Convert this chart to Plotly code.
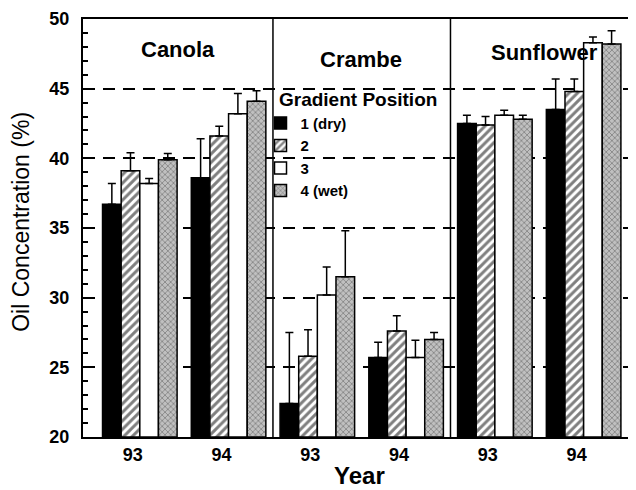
import plotly.graph_objects as go

# ---- data ----
years = ["93", "94", "93", "94", "93", "94"]
crops = ["Canola", "Crambe", "Sunflower"]
positions = ["1 (dry)", "2", "3", "4 (wet)"]
y_ticks = [20, 25, 30, 35, 40, 45, 50]

pos1 = [36.7, 38.6, 22.4, 25.7, 42.5, 43.5]
pos2 = [39.1, 41.6, 25.8, 27.6, 42.4, 44.8]
pos3 = [38.2, 43.2, 30.2, 25.7, 43.1, 48.3]
pos4 = [39.9, 44.1, 31.5, 27.0, 42.8, 48.2]

err1 = [1.5, 2.8, 5.1, 1.1, 0.6, 2.2]
err2 = [1.3, 0.7, 1.9, 1.1, 0.6, 0.9]
err3 = [0.35, 1.45, 2.0, 1.25, 0.35, 0.4]
err4 = [0.45, 0.75, 3.3, 0.5, 0.3, 0.95]

values = [pos1, pos2, pos3, pos4]
errors = [err1, err2, err3, err4]

FONT = "Liberation Sans"
x_idx = list(range(len(years)))

styles = [
    dict(color="black"),
    dict(color="white", pattern=dict(shape="/", fgcolor="black", bgcolor="white",
                                     size=6, solidity=0.5)),
    dict(color="white"),
    dict(color="#b0b0b0", pattern=dict(shape="x", fgcolor="#222222", bgcolor="#c0c0c0",
                                       size=4, solidity=0.3)),
]

fig = go.Figure()
for name, vals, errs, st in zip(positions, values, errors, styles):
    fig.add_trace(go.Bar(
        x=x_idx, y=[v - 20 for v in vals], base=20, name=name,
        marker=dict(line=dict(color="black", width=1.5), **st),
        error_y=dict(type="data", symmetric=False, array=errs,
                     arrayminus=[0] * len(errs), color="black",
                     thickness=1.5, width=4),
    ))

# panel titles
title_pos = [(0.43, 47.8), (2.49, 47.1), (4.56, 47.6)]
for crop, (tx, ty) in zip(crops, title_pos):
    fig.add_annotation(x=tx, y=ty, text="<b>%s</b>" % crop, showarrow=False,
                       font=dict(family=FONT, size=22, color="black"))

# legend title
fig.add_annotation(x=1.545, y=44.2, text="<b>Gradient Position</b>", showarrow=False,
                   xanchor="left", yanchor="middle",
                   font=dict(family=FONT, size=19, color="black"))

# axis titles
fig.add_annotation(x=0.5, y=-0.091, xref="paper", yref="paper",
                   text="<b>Year</b>", showarrow=False, yanchor="middle",
                   font=dict(family=FONT, size=24, color="black"))
fig.add_annotation(x=-0.112, y=0.515, xref="paper", yref="paper",
                   text="Oil Concentration (%)", showarrow=False, textangle=-90,
                   xanchor="center", yanchor="middle",
                   font=dict(family=FONT, size=23, color="black"))

# panel separators
for sx in [1.5, 3.5]:
    fig.add_shape(type="line", x0=sx, x1=sx, y0=20, y1=50, xref="x", yref="y",
                  line=dict(color="black", width=1.5), layer="above")

# the page body adds an 8px offset, so the figure is sized/margined to compensate
fig.update_layout(
    width=628, height=482,
    margin=dict(l=75, r=0, t=11, b=53),
    paper_bgcolor="white", plot_bgcolor="white",
    barmode="group", bargap=0.16, bargroupgap=0,
    showlegend=True,
    legend=dict(x=0.321, y=0.79, xanchor="left", yanchor="top",
                bgcolor="rgba(0,0,0,0)", tracegroupgap=0, itemwidth=30,
                font=dict(family=FONT, size=15, color="black", weight="bold")),
    font=dict(family=FONT, color="black"),
)

fig.update_xaxes(
    range=[-0.64, 5.59], tickvals=x_idx, ticktext=["<b>%s</b>" % y for y in years],
    showline=True, linecolor="black", linewidth=2, mirror=True,
    ticks="", showgrid=False, zeroline=False, automargin=False,
    tickfont=dict(family=FONT, size=18, color="black"),
    ticklabelshift=-7,
)

fig.update_yaxes(
    range=[20, 50], tickvals=y_ticks, ticktext=["<b>%d</b>" % t for t in y_ticks],
    showline=True, linecolor="black", linewidth=2,
    ticks="inside", ticklen=9, tickwidth=1.5, tickcolor="black",
    minor=dict(dtick=1, ticks="inside", ticklen=5, tickwidth=1.5, tickcolor="black",
               showgrid=False),
    showgrid=True, gridcolor="black", gridwidth=1.5, griddash="12px,8px",
    zeroline=False, automargin=False,
    tickfont=dict(family=FONT, size=18, color="black"),
    ticklabelstandoff=8,
)

fig.write_html("out.html")
